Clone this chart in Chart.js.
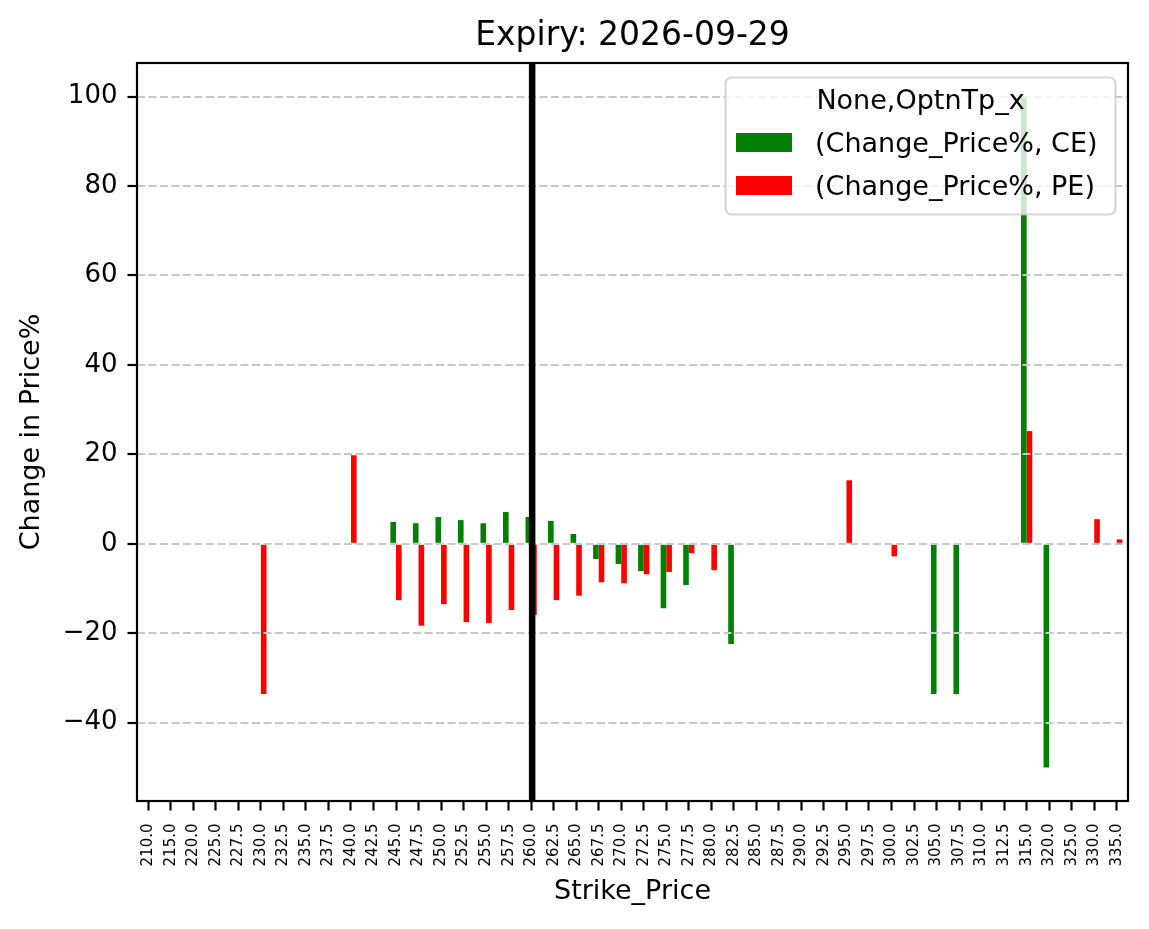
<!DOCTYPE html>
<html>
<head>
<meta charset="utf-8">
<script src="https://cdn.jsdelivr.net/npm/chart.js@4.4.1/dist/chart.umd.min.js"></script>
<style>
  html, body { margin: 0; padding: 0; background: #fff; }
  canvas { display: block; }
</style>
</head>
<body>
<canvas id="chart" width="1149" height="929"></canvas>
<script>
// strike prices (x categories)
const strikes = ['210.0', '215.0', '220.0', '225.0', '227.5', '230.0', '232.5', '235.0', '237.5', '240.0',
  '242.5', '245.0', '247.5', '250.0', '252.5', '255.0', '257.5', '260.0', '262.5', '265.0',
  '267.5', '270.0', '272.5', '275.0', '277.5', '280.0', '282.5', '285.0', '287.5', '290.0',
  '292.5', '295.0', '297.5', '300.0', '302.5', '305.0', '307.5', '310.0', '312.5', '315.0',
  '320.0', '325.0', '330.0', '335.0'];

// Change_Price% for CE (call)
const ceChange = [null, null, null, null, null, null, null, null, null, null,
  null, 4.9, 4.6, 6.0, 5.3, 4.6, 7.1, 6.0, 5.1, 2.2,
  -3.4, -4.5, -6.1, -14.4, -9.2, null, -22.4, null, null, null,
  null, null, null, null, null, -33.6, -33.6, null, null, 100,
  -50.0, null, null, null];

// Change_Price% for PE (put)
const peChange = [null, null, null, null, null, -33.6, null, null, null, 19.8,
  null, -12.6, -18.3, -13.5, -17.5, -17.7, -14.8, -15.9, -12.6, -11.6,
  -8.6, -8.8, -6.8, -6.3, -2.1, -5.9, null, null, null, 0.2,
  null, 14.2, null, -2.8, null, null, null, null, null, 25.2,
  null, null, 5.5, 1.0];

const yTicks = [-40, -20, 0, 20, 40, 60, 80, 100];
const spotStrike = '260.0';
const chartTitle = 'Expiry: 2026-09-29';
const legendTitle = 'None,OptnTp_x';
const FONT = 'DejaVu Sans';

// title over the axes, frame, spot line and legend box like matplotlib
const overlay = {
  id: 'overlay',
  afterDraw(chart) {
    const ctx = chart.ctx;
    const a = chart.chartArea;
    const xs = chart.scales.x;

    ctx.save();
    // title centred on the plot area
    ctx.font = '33px "' + FONT + '"';
    ctx.fillStyle = '#000';
    ctx.textAlign = 'center';
    ctx.textBaseline = 'alphabetic';
    ctx.fillText(chartTitle, (a.left + a.right) / 2, a.top - 18);

    // axes frame
    ctx.strokeStyle = '#000';
    ctx.lineWidth = 2.2;
    ctx.strokeRect(a.left, a.top, a.right - a.left, a.bottom - a.top);

    // thick line at spot strike
    const sx = xs.getPixelForValue(strikes.indexOf(spotStrike));
    ctx.lineWidth = 6.5;
    ctx.beginPath();
    ctx.moveTo(sx + 1, a.top);
    ctx.lineTo(sx + 1, a.bottom);
    ctx.stroke();

    // legend
    const w = 390, h = 137;
    const lx = a.right - 12.5 - w, ly = a.top + 14.5;
    ctx.beginPath();
    ctx.roundRect(lx, ly, w, h, 6);
    ctx.fillStyle = 'rgba(255,255,255,0.8)';
    ctx.fill();
    ctx.lineWidth = 2.2;
    ctx.strokeStyle = 'rgba(204,204,204,0.8)';
    ctx.stroke();

    ctx.font = '27px "' + FONT + '"';
    ctx.fillStyle = '#000';
    ctx.textAlign = 'center';
    ctx.fillText(legendTitle, lx + w / 2, ly + 31.5);
    ctx.textAlign = 'left';
    chart.data.datasets.forEach((ds, i) => {
      const rowY = ly + 55.5 + i * 43;
      ctx.fillStyle = ds.backgroundColor;
      ctx.fillRect(lx + 10.5, rowY, 56, 19);
      ctx.fillStyle = '#000';
      ctx.fillText(ds.label, lx + 89.5, rowY + 19);
    });
    ctx.restore();
  }
};

new Chart(document.getElementById('chart'), {
  type: 'bar',
  data: {
    labels: strikes,
    datasets: [
      { label: '(Change_Price%, CE)', data: ceChange, backgroundColor: '#008000', categoryPercentage: 0.5, barPercentage: 1.0 },
      { label: '(Change_Price%, PE)', data: peChange, backgroundColor: '#ff0000', categoryPercentage: 0.5, barPercentage: 1.0 }
    ]
  },
  options: {
    responsive: false,
    animation: false,
    devicePixelRatio: 1,
    layout: { padding: { left: 0, right: 21, top: 63, bottom: 0 } },
    plugins: {
      legend: { display: false },
      tooltip: { enabled: false },
      title: { display: false }
    },
    scales: {
      x: {
        offset: true,
        grid: {
          offset: false,
          drawOnChartArea: false,
          drawTicks: true,
          tickLength: 9.5,
          tickWidth: 2.2,
          tickColor: '#000'
        },
        border: { display: false },
        ticks: {
          autoSkip: false,
          maxRotation: 90,
          minRotation: 90,
          padding: 13,
          color: '#000',
          font: { family: FONT, size: 15 }
        },
        title: {
          display: true,
          text: 'Strike_Price',
          color: '#000',
          font: { family: FONT, size: 27 },
          padding: { top: 0, bottom: 21 }
        },
        afterFit(scale) { scale.height = 128; }
      },
      y: {
        min: -57.5,
        max: 107.5,
        afterBuildTicks(scale) { scale.ticks = yTicks.map(v => ({ value: v })); },
        grid: {
          color: '#c8c8c8',
          lineWidth: 2,
          z: 1,
          drawTicks: true,
          tickLength: 9.5,
          tickWidth: 2.2,
          tickColor: '#000',
          tickBorderDash: []
        },
        border: { display: false, dash: [8, 3.5] },
        ticks: {
          padding: 10,
          color: '#000',
          font: { family: FONT, size: 26 },
          callback: (v) => String(v).replace('-', '\u2212')
        },
        title: {
          display: true,
          text: 'Change in Price%',
          color: '#000',
          font: { family: FONT, size: 27 },
          padding: { top: 16, bottom: 0 }
        },
        afterFit(scale) { scale.width = 137; }
      }
    }
  },
  plugins: [overlay]
});
</script>
</body>
</html>
